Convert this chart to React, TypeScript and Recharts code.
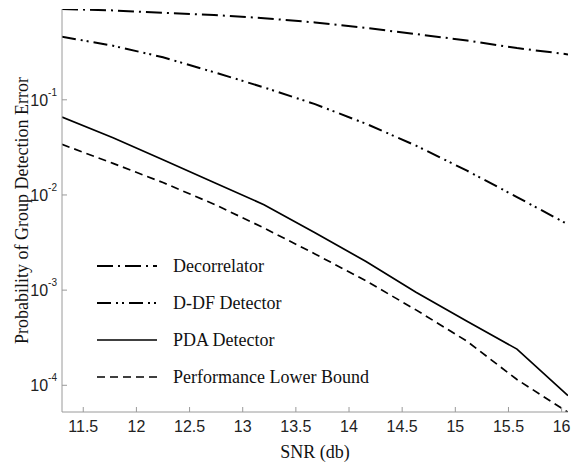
import React from 'react';
import { LineChart, Line, XAxis, YAxis, Legend } from 'recharts';

// SNR (db) sample points
const snr = [11.3, 11.78, 12.25, 12.73, 13.2, 13.68, 14.16, 14.63, 15.11, 15.58, 16.06];
// Probability of group detection error per detector
const decorrelator = [0.9, 0.87, 0.82, 0.78, 0.72, 0.65, 0.57, 0.49, 0.42, 0.35, 0.3];
const ddfDetector = [0.46, 0.37, 0.28, 0.195, 0.135, 0.09, 0.056, 0.033, 0.018, 0.0095, 0.0049];
const pdaDetector = [0.066, 0.04, 0.0235, 0.0135, 0.0079, 0.004, 0.002, 0.00095, 0.00047, 0.00024, 0.000078];
const lowerBound = [0.034, 0.0215, 0.0135, 0.008, 0.0045, 0.0024, 0.00125, 0.00062, 0.00029, 0.000115, 0.000052];

const seriesNames = ['Decorrelator', 'D-DF Detector', 'PDA Detector', 'Performance Lower Bound'];
const xTicks = [11.5, 12, 12.5, 13, 13.5, 14, 14.5, 15, 15.5, 16];
const yTicks = [1e-4, 1e-3, 1e-2, 1e-1];
const yMinorTicks = [1e-4, 1e-3, 1e-2, 1e-1]
  .flatMap((d) => [0.6, 0.7, 0.8, 0.9, 2, 3, 4, 5, 6, 7, 8].map((m) => m * d))
  .filter((v, i, a) => a.indexOf(v) === i);

const xDomain = [11.3, 16.06];
const yDomain = [5.24e-5, 0.9];

const data = snr.map((s, i) => ({
  snr: s,
  dec: decorrelator[i],
  ddf: ddfDetector[i],
  pda: pdaDetector[i],
  lb: lowerBound[i],
}));

const styles = [
  { key: 'dec', dash: '16 5 2 5', width: 2 },
  { key: 'ddf', dash: '14 5 2 4 2 5', width: 2 },
  { key: 'pda', dash: undefined, width: 1.7 },
  { key: 'lb', dash: '8 5', width: 1.7 },
];

const AXIS = '#9a9a9a';
const SERIF = '"Liberation Serif", "Times New Roman", serif';
const SANS = '"Liberation Sans", Arial, sans-serif';

const YTick = (props: any) => {
  const { x, y, payload } = props;
  const exp = Math.round(Math.log10(payload.value));
  return (
    <text x={x} y={y} textAnchor="end" fontFamily={SANS} fontSize={16} fill="#222">
      <tspan dy={6}>10</tspan>
      <tspan dy={-10} fontSize={10}>{String(exp)}</tspan>
    </text>
  );
};

const LegendBox = () => (
  <svg width={300} height={150} style={{ display: 'block' }}>
    {seriesNames.map((name, i) => {
      const st = styles[i];
      const y = 16 + i * 37;
      return (
        <g key={name}>
          <line x1={7} x2={67} y1={y} y2={y} stroke="#000" strokeWidth={st.width} strokeDasharray={st.dash} />
          <text x={83} y={y} dominantBaseline="central" fontFamily={SERIF} fontSize={18} fill="#111">
            {name}
          </text>
        </g>
      );
    })}
  </svg>
);

export default function App() {
  return (
    <div style={{ position: 'absolute', left: 0, top: 0, background: '#fff' }}>
      <LineChart width={579} height={462} data={data} margin={{ top: 9, right: 11, left: 0, bottom: 0 }}>
        <XAxis
          xAxisId="top"
          orientation="top"
          type="number"
          dataKey="snr"
          domain={xDomain}
          ticks={xTicks}
          allowDataOverflow
          height={0}
          tick={false}
          tickSize={-5}
          axisLine={{ stroke: AXIS }}
          tickLine={{ stroke: AXIS }}
        />
        <XAxis
          type="number"
          dataKey="snr"
          domain={xDomain}
          ticks={xTicks}
          allowDataOverflow
          height={50}
          tickSize={-5}
          tickMargin={14}
          axisLine={{ stroke: AXIS }}
          tickLine={{ stroke: AXIS }}
          tick={{ fontFamily: SANS, fontSize: 16, fill: '#222' }}
          label={{ value: 'SNR (db)', position: 'insideBottom', offset: 4, style: { fontFamily: SERIF, fontSize: 18, fill: '#111' } }}
        />
        <YAxis
          yAxisId="minorL"
          orientation="left"
          scale="log"
          type="number"
          domain={yDomain}
          ticks={yMinorTicks}
          allowDataOverflow
          width={0}
          tick={false}
          tickSize={-3}
          axisLine={false}
          tickLine={{ stroke: AXIS }}
        />
        <YAxis
          scale="log"
          type="number"
          domain={yDomain}
          ticks={yTicks}
          allowDataOverflow
          width={62}
          tickSize={-5}
          tickMargin={10}
          axisLine={{ stroke: AXIS }}
          tickLine={{ stroke: AXIS }}
          tick={<YTick />}
          label={{
            value: 'Probability of Group Detection Error',
            angle: -90,
            position: 'insideLeft',
            offset: 22,
            style: { textAnchor: 'middle', fontFamily: SERIF, fontSize: 18, fill: '#111' },
          }}
        />
        <YAxis
          yAxisId="minorR"
          orientation="right"
          scale="log"
          type="number"
          domain={yDomain}
          ticks={yMinorTicks}
          allowDataOverflow
          width={0}
          tick={false}
          tickSize={-3}
          axisLine={false}
          tickLine={{ stroke: AXIS }}
        />
        <YAxis
          yAxisId="right"
          orientation="right"
          scale="log"
          type="number"
          domain={yDomain}
          ticks={yTicks}
          allowDataOverflow
          width={0}
          tick={false}
          tickSize={-5}
          axisLine={{ stroke: AXIS }}
          tickLine={{ stroke: AXIS }}
        />
        {styles.map((st, i) => (
          <Line
            key={st.key}
            dataKey={st.key}
            name={seriesNames[i]}
            stroke="#000"
            strokeWidth={st.width}
            strokeDasharray={st.dash}
            dot={false}
            activeDot={false}
            isAnimationActive={false}
          />
        ))}
        <Legend
          layout="vertical"
          align="center"
          verticalAlign="middle"
          wrapperStyle={{ position: 'absolute', left: 90, top: 250, width: 300, height: 150 }}
          content={() => <LegendBox />}
        />
      </LineChart>
    </div>
  );
}
